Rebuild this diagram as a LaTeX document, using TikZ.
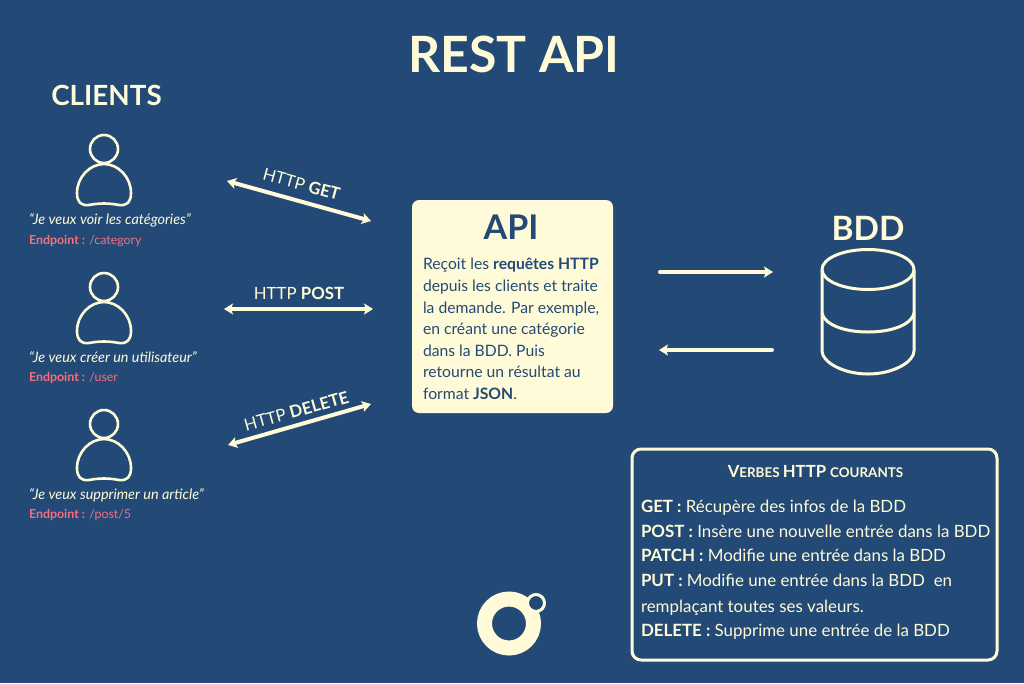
\documentclass[tikz,border=0pt]{standalone}
\usepackage{fontspec}
\setmainfont{Lato}
\usetikzlibrary{arrows.meta}
\definecolor{bg}{HTML}{234A77}
\definecolor{cream}{HTML}{FFFBD8}
\definecolor{pink}{HTML}{F46E7E}
\newcommand{\fs}[1]{\fontsize{#1}{#1}\selectfont}
\tikzset{
  x=1pt,y=-1pt,
  txt/.style={anchor=base west,inner sep=0pt,outer sep=0pt,text=cream},
  ctxt/.style={anchor=base,inner sep=0pt,outer sep=0pt,text=cream},
  apitxt/.style={txt,text=bg,font=\fs{15.7}},
  verbtxt/.style={txt,font=\fs{16.9}},
  quote/.style={txt,font=\fs{14.4}\itshape},
  endp/.style={txt,text=pink,font=\fs{12.4}},
  icon/.style={draw=cream,line width=2.6pt,line join=round},
  flow/.style={draw=cream,line width=4pt,line cap=round,{Stealth[length=9pt,width=11pt,inset=2pt]}-{Stealth[length=9pt,width=11pt,inset=2pt]}},
  oneway/.style={draw=cream,line width=4pt,line cap=round,-{Stealth[length=9pt,width=11pt,inset=2pt]}},
}
\newcommand{\person}[1]{%
  \draw[icon] (104,#1) circle[radius=14];
  \draw[icon] (104,#1+15) .. controls (118,#1+15) and (131,#1+28) .. (131,#1+44)
    .. controls (131,#1+53) and (127,#1+57) .. (119,#1+56)
    .. controls (109,#1+54) and (99,#1+54) .. (89,#1+56)
    .. controls (81,#1+57) and (77,#1+53) .. (77,#1+44)
    .. controls (77,#1+28) and (90,#1+15) .. (104,#1+15) -- cycle;
}
\begin{document}
\begin{tikzpicture}
\fill[bg] (0,0) rectangle (1024,683);
\useasboundingbox (0,0) rectangle (1024,683);

\node[ctxt,font=\fs{50}\bfseries] (title) at (514,72) {REST API};
\node[ctxt,font=\fs{27.8}\bfseries] (clients) at (106.5,105.5) {CLIENTS};

% Clients
\person{149}
\node[quote] (q1) at (29,224) {“Je veux voir les catégories”};
\node[endp] (e1) at (29,244) {\textbf{Endpoint :} /category};
\person{287}
\node[quote] (q2) at (29,362) {“Je veux créer un utilisateur”};
\node[endp] (e2) at (29,381) {\textbf{Endpoint :} /user};
\person{424}
\node[quote] (q3) at (29,499) {“Je veux supprimer un article”};
\node[endp] (e3) at (29,518) {\textbf{Endpoint :} /post/5};

% Flow ends
\coordinate (g1) at (227,181); \coordinate (g2) at (371,221);
\coordinate (p1) at (224,309); \coordinate (p2) at (373,309);
\coordinate (d1) at (228,445); \coordinate (d2) at (371,404);
\draw[flow] (g1) -- (g2);
\draw[flow] (p1) -- (p2);
\draw[flow] (d1) -- (d2);
\node[ctxt,font=\fs{16.8},rotate=-15.5] (lg) at (300,190) {HTTP \textbf{GET}};
\node[ctxt,font=\fs{16.8}] (lp) at (299,299) {HTTP \textbf{POST}};
\node[ctxt,font=\fs{16.8},rotate=15.5] (ld) at (298,417) {HTTP \textbf{DELETE}};

% API box
\node[fill=cream,rounded corners=7pt,minimum width=201pt,minimum height=213pt,inner sep=0pt,outer sep=0pt,anchor=north west] (api) at (412,200) {};
\node[ctxt,text=bg,font=\fs{34}\bfseries] (apit) at (511,239) {API};
\node[apitxt] (a1) at (423,269) {Reçoit les \textbf{requêtes HTTP}};
\node[apitxt] (a2) at (423,291) {depuis les clients et traite};
\node[apitxt] (a3) at (423,313) {la demande. Par exemple,};
\node[apitxt] (a4) at (423,334) {en créant une catégorie};
\node[apitxt] (a5) at (423,356) {dans la BDD. Puis};
\node[apitxt] (a6) at (423,377) {retourne un résultat au};
\node[apitxt] (a7) at (423,399) {format \textbf{JSON}.};

% API <-> BDD
\coordinate (r1) at (660,272); \coordinate (r2) at (773,272);
\coordinate (l1) at (772,350); \coordinate (l2) at (659,350);
\draw[oneway] (r1) -- (r2);
\draw[oneway] (l1) -- (l2);

% BDD
\node[ctxt,font=\fs{33.5}\bfseries] (bdd) at (868,240) {BDD};
\draw[icon,line width=3pt] (868,269.5) ellipse[x radius=46,y radius=20];
\draw[icon,line width=3pt] (822,270) -- (822,351) .. controls (822,362) and (843,374) .. (868,374)
  .. controls (893,374) and (914,362) .. (914,351) -- (914,270);
\draw[icon,line width=3pt] (822,313) .. controls (824,324) and (843,332) .. (868,332)
  .. controls (893,332) and (912,324) .. (914,313);

% Verbs box
\node[draw=cream,line width=3pt,rounded corners=9pt,minimum width=365pt,minimum height=211pt,inner sep=0pt,outer sep=0pt,anchor=north west] (verbs) at (632,449) {};
\node[ctxt,font=\bfseries] (vt) at (815.5,477) {\fs{16.7}V\fs{13.4}ERBES \fs{16.7}HTTP \fs{13.4}COURANTS};
\node[verbtxt] (v1) at (641,512) {\textbf{GET :} Récupère des infos de la BDD};
\node[verbtxt] (v2) at (641,537) {\textbf{POST :} Insère une nouvelle entrée dans la BDD};
\node[verbtxt] (v3) at (641,561) {\textbf{PATCH :} Modifie une entrée dans la BDD};
\node[verbtxt] (v4) at (641,586) {\textbf{PUT :} Modifie une entrée dans la BDD\ \ en};
\node[verbtxt] (v5) at (641,612) {remplaçant toutes ses valeurs.};
\node[verbtxt] (v6) at (641,636) {\textbf{DELETE :} Supprime une entrée de la BDD};

% Logo
\draw[cream,line width=15pt] (509,623.5) circle[radius=24.5];
\draw[cream,line width=3pt,fill=bg] (536,603) circle[radius=8.5];
\end{tikzpicture}
\end{document}
